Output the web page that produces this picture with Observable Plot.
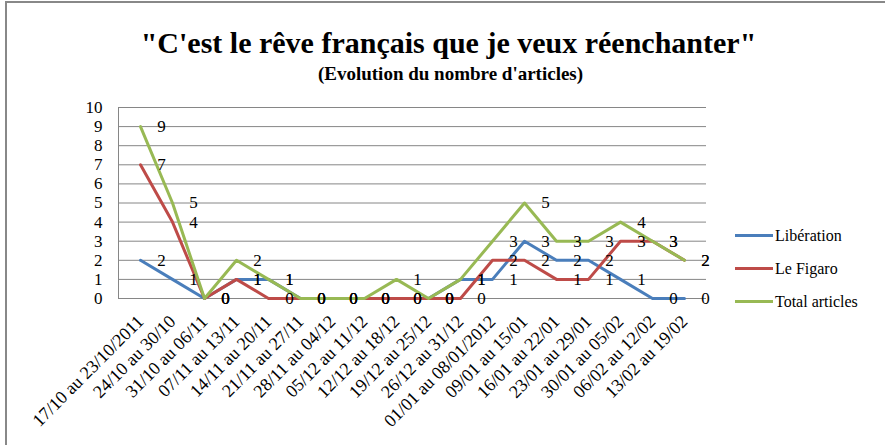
<!DOCTYPE html>
<html><head><meta charset="utf-8">
<script src="https://cdn.jsdelivr.net/npm/d3@7"></script>
<script src="https://cdn.jsdelivr.net/npm/@observablehq/plot@0.6"></script>
<style>
body{margin:0;background:#fff;}
#wrap{position:relative;width:885px;height:445px;overflow:hidden;font-family:"Liberation Serif",Tinos,"Times New Roman",Times,"DejaVu Serif",serif;}
#wrap svg, #wrap svg text{font-family:"Liberation Serif",Tinos,"Times New Roman",Times,"DejaVu Serif",serif !important;}
#border{position:absolute;left:5px;top:1px;right:-10px;bottom:-10px;border-top:2px solid #888;border-left:2px solid #888;pointer-events:none;}
#chart{position:absolute;left:0;top:0;}
#legend{position:absolute;left:735px;top:219px;font-size:16px;color:#000;}
.item{display:flex;align-items:center;height:33px;}
.sw{width:38px;height:3px;margin-right:2px;}
</style></head><body>
<div id="wrap"><div id="chart"></div><div id="border"></div><div id="legend"></div></div>
<script>
const categories = ["17/10 au 23/10/2011","24/10 au 30/10","31/10 au 06/11","07/11 au 13/11","14/11 au 20/11","21/11 au 27/11","28/11 au 04/12","05/12 au 11/12","12/12 au 18/12","19/12 au 25/12","26/12 au 31/12","01/01 au 08/01/2012","09/01 au 15/01","16/01 au 22/01","23/01 au 29/01","30/01 au 05/02","06/02 au 12/02","13/02 au 19/02"];
const liberation = [2,1,0,1,1,0,0,0,0,0,1,1,3,2,2,1,0,0];
const figaro     = [7,4,0,1,0,0,0,0,0,0,0,2,2,1,1,3,3,2];
const total      = [9,5,0,2,1,0,0,0,1,0,1,3,5,3,3,4,3,2];
const yTicks = [0,1,2,3,4,5,6,7,8,9,10];
const seriesNames = ["Libération","Le Figaro","Total articles"];
const colors = ["#4A7EBB","#BE4B48","#98B954"];
const titleText = "\"C'est le rêve français que je veux réenchanter\"";
const subtitleText = "(Evolution du nombre d'articles)";

const rows = [];
[liberation, figaro, total].forEach((vals, i) => vals.forEach((v, j) => rows.push({series: seriesNames[i], cat: categories[j], value: v})));

const chart = Plot.plot({
  width: 885, height: 445,
  marginTop: 107, marginBottom: 147, marginLeft: 118, marginRight: 179,
  style: {fontSize: "17px", background: "transparent", color: "#000"},
  x: {type: "point", domain: categories, padding: 0.5, label: null},
  y: {domain: [0, 10], ticks: yTicks, label: null},
  color: {domain: seriesNames, range: colors},
  marks: [
    Plot.ruleY(yTicks.slice(1), {stroke: "#868686", strokeWidth: 1}),
    Plot.ruleY([0], {stroke: "#868686", strokeWidth: 1}),
    Plot.frame({anchor: "left", stroke: "#868686"}),
    Plot.axisY({ticks: yTicks, tickSize: 0, tickPadding: 16, fontSize: 17, label: null}),
    Plot.axisX({tickSize: 0, tickRotate: -45, fontSize: 18, label: null, tickPadding: 20}),
    Plot.lineY(rows, {x: "cat", y: "value", z: "series", stroke: "series", strokeWidth: 3, strokeLinejoin: "round"}),
    Plot.text(rows, {x: "cat", y: "value", text: "value", dx: 21, fontSize: 17, fill: "#000"}),
    Plot.text([titleText], {frameAnchor: "top", lineAnchor: "middle", dx: 36, dy: -64, fontSize: 30, fontWeight: "bold", fill: "#000"}),
    Plot.text([subtitleText], {frameAnchor: "top", lineAnchor: "middle", dx: 38, dy: -34, fontSize: 19, fontWeight: "bold", fill: "#000"})
  ]
});
document.getElementById("chart").appendChild(chart);

const legend = document.getElementById("legend");
seriesNames.forEach((name, i) => {
  const item = document.createElement("div");
  item.className = "item";
  const sw = document.createElement("span");
  sw.className = "sw";
  sw.style.background = colors[i];
  const t = document.createElement("span");
  t.textContent = name;
  item.appendChild(sw); item.appendChild(t);
  legend.appendChild(item);
});
</script>
</body></html>
